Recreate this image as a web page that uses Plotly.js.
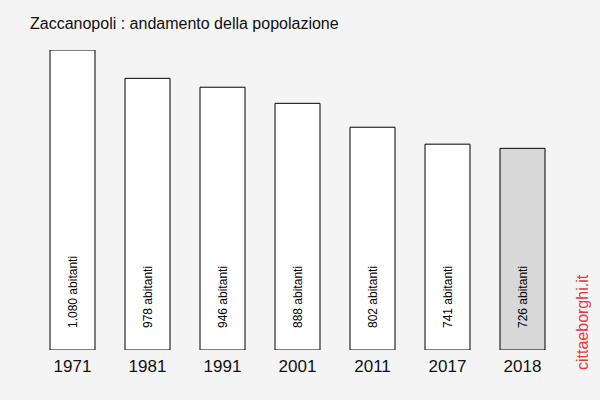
<!DOCTYPE html>
<html>
<head>
<meta charset="utf-8">
<script src="https://cdn.plot.ly/plotly-3.0.1.min.js"></script>
<style>html,body{margin:0;padding:0;background:#f4f4f4;}</style>
</head>
<body>
<div id="chart" style="width:600px;height:400px;"></div>
<script>
var years = ['1971', '1981', '1991', '2001', '2011', '2017', '2018'];
var population = [1080, 978, 946, 888, 802, 741, 726];
var labels = ['1.080 abitanti', '978 abitanti', '946 abitanti', '888 abitanti', '802 abitanti', '741 abitanti', '726 abitanti'];
var fills = ['#ffffff', '#ffffff', '#ffffff', '#ffffff', '#ffffff', '#ffffff', '#d8d8d8'];

var FONT = 'Liberation Sans, Arial, sans-serif';

var trace = {
  type: 'bar',
  x: years,
  y: population,
  marker: { color: fills, line: { color: '#000000', width: 1 } },
  hoverinfo: 'none'
};

var annotations = years.map(function (yr, i) {
  return {
    x: i, y: 0.005, xref: 'x', yref: 'paper',
    text: labels[i], showarrow: false, textangle: -90,
    xanchor: 'center', yanchor: 'bottom', yshift: 18,
    font: { family: FONT, size: 12, color: '#000000' }
  };
});
annotations.push({
  x: (582 - 35) / 525, y: -22 / 300, xref: 'paper', yref: 'paper',
  text: 'cittaeborghi.it', showarrow: false, textangle: -90,
  xanchor: 'center', yanchor: 'bottom',
  font: { family: FONT, size: 16, color: '#e8363c' }
});

var layout = {
  width: 600, height: 400,
  paper_bgcolor: '#f4f4f4', plot_bgcolor: '#f4f4f4',
  margin: { l: 35, r: 40, t: 50, b: 50 },
  bargap: 0.4,
  showlegend: false,
  title: {
    text: 'Zaccanopoli : andamento della popolazione',
    x: 30 / 600, xanchor: 'left', y: 1 - 23 / 400, yanchor: 'middle',
    font: { family: FONT, size: 16, color: '#111111' }
  },
  xaxis: {
    type: 'category', range: [-0.5, 6.5],
    showgrid: false, zeroline: false, showline: false, ticks: '',
    ticklabelstandoff: 4,
    tickfont: { family: FONT, size: 17, color: '#111111' }
  },
  yaxis: {
    range: [0, 1080], showgrid: false, zeroline: false, showline: false,
    showticklabels: false, ticks: ''
  },
  annotations: annotations
};

Plotly.newPlot('chart', [trace], layout, { displayModeBar: false, staticPlot: true });
</script>
</body>
</html>
